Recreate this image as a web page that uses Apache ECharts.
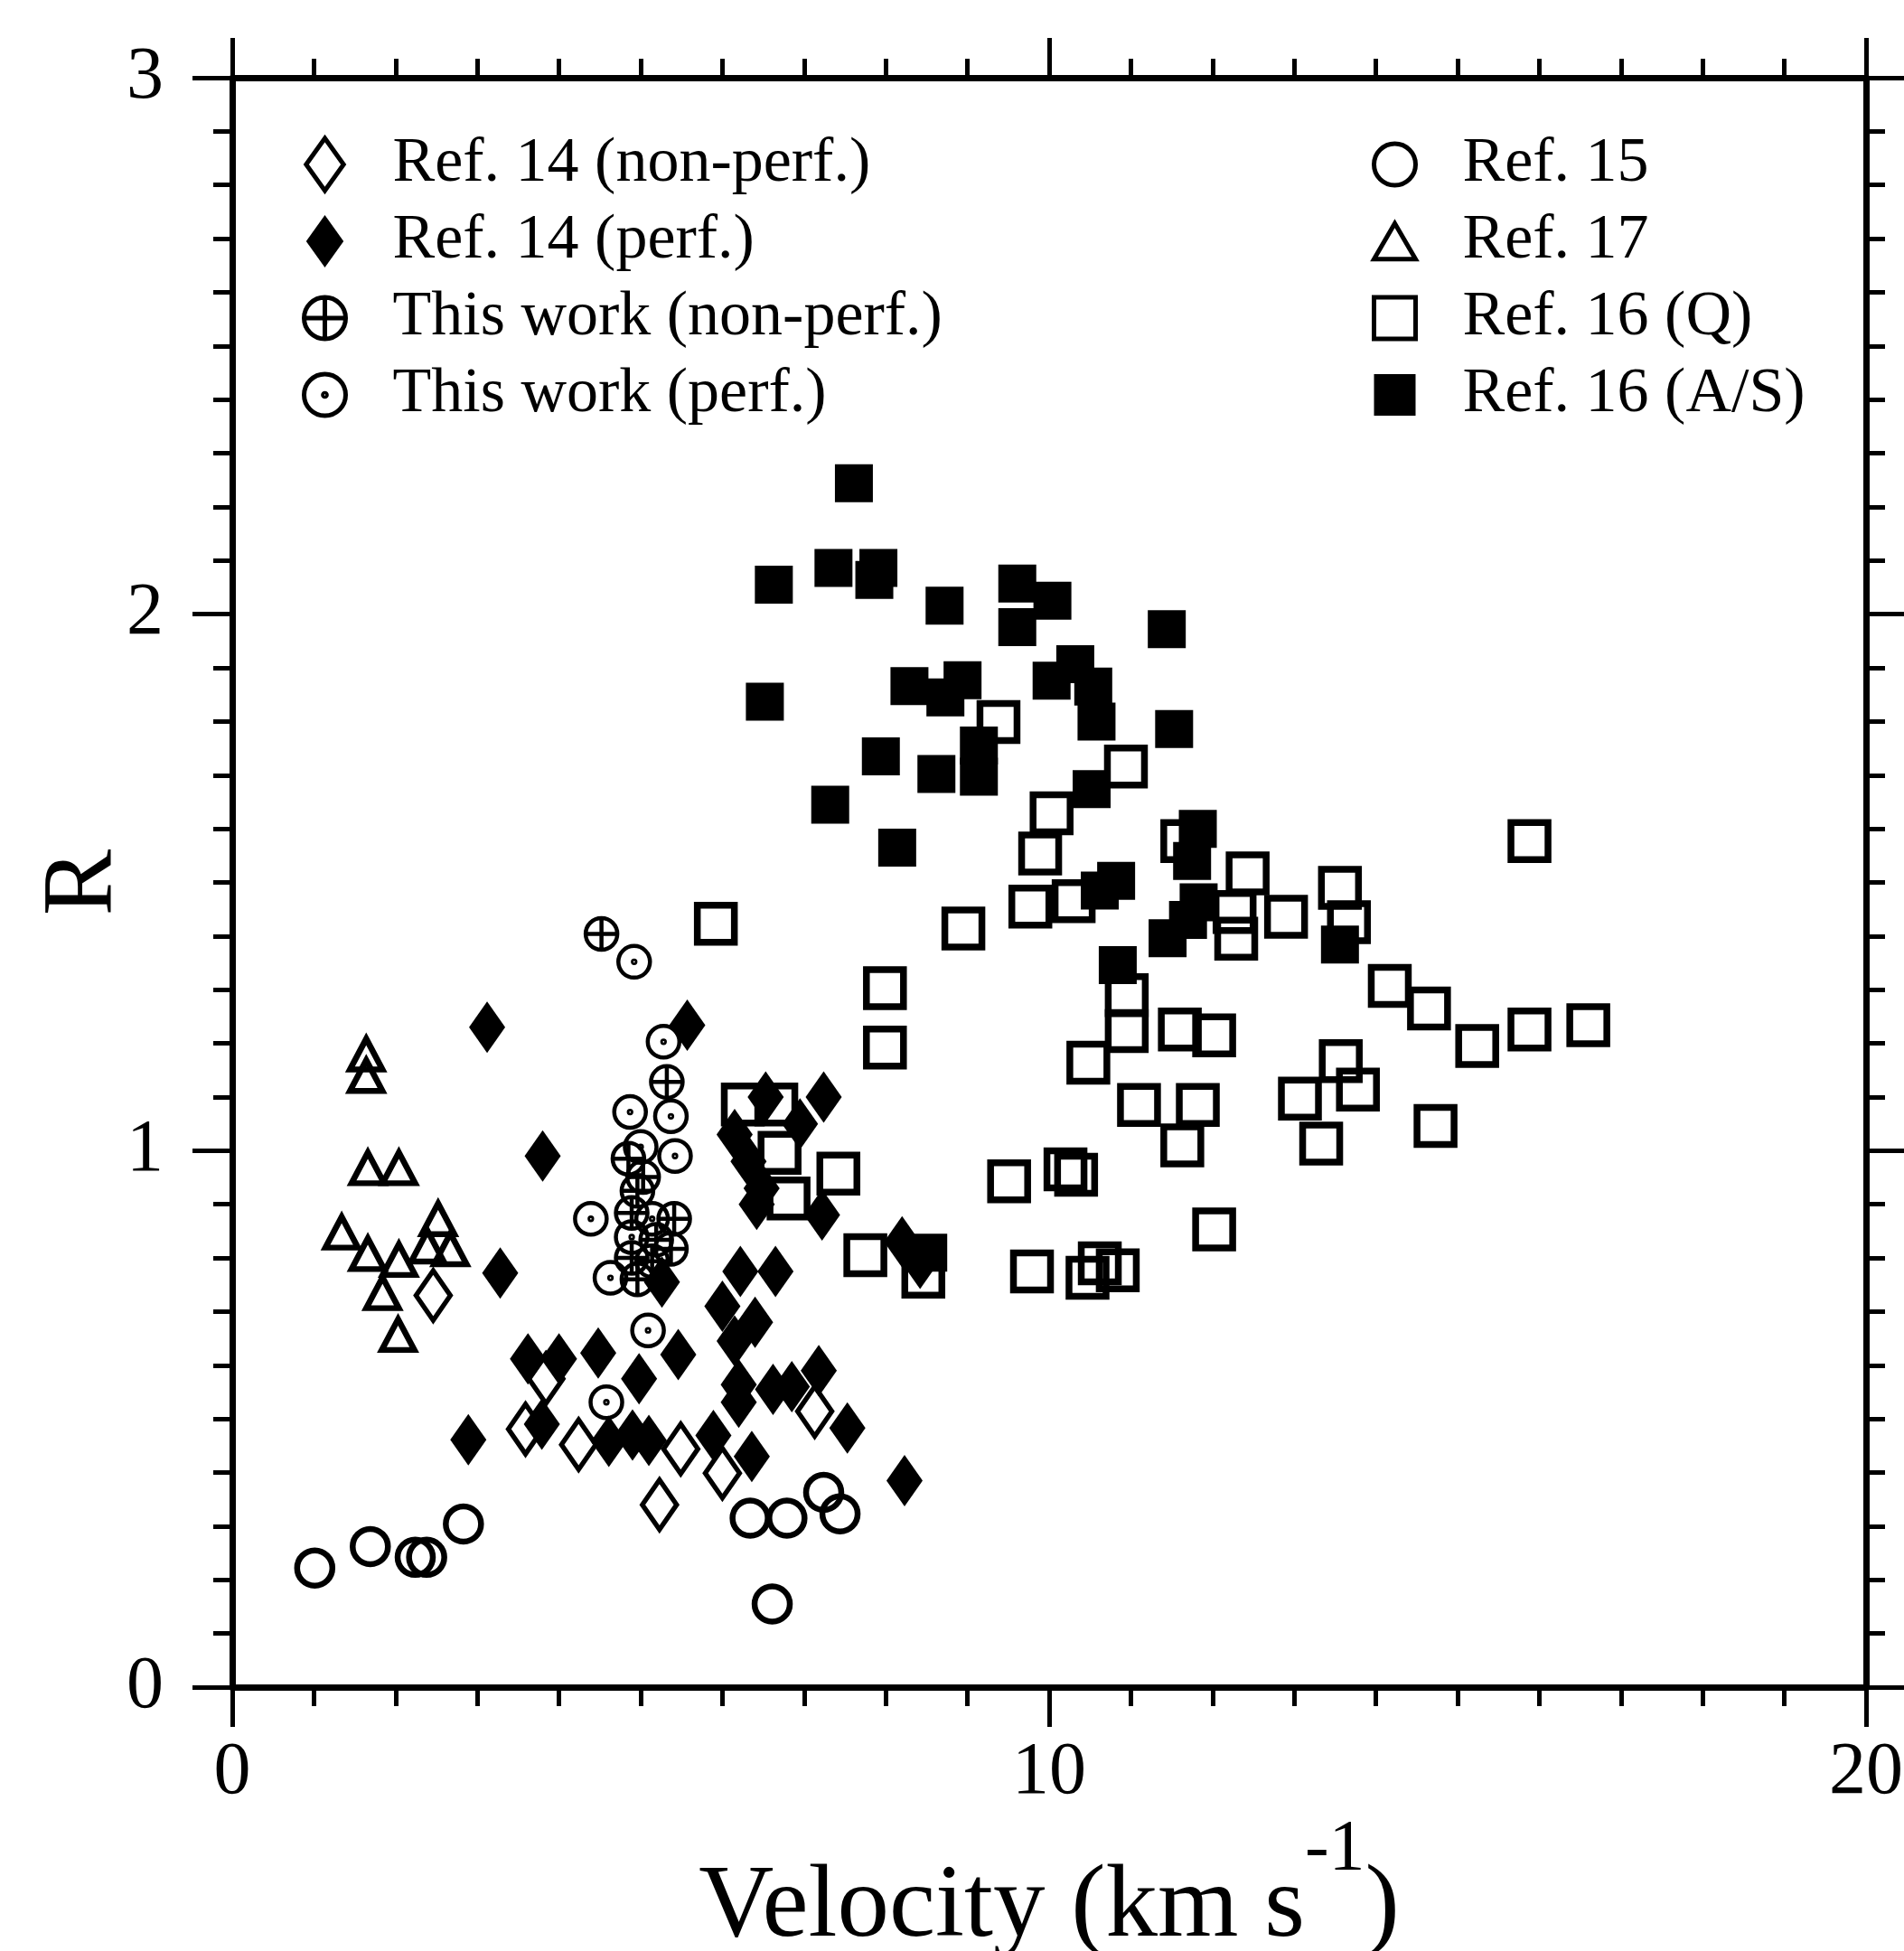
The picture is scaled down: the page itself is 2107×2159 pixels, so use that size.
<!DOCTYPE html>
<html>
<head>
<meta charset="utf-8">
<script src="https://cdn.jsdelivr.net/npm/echarts@6/dist/echarts.min.js"></script>
<style>
  html, body { margin: 0; padding: 0; background: #fff; }
  #chart { width: 2107px; height: 2159px; }
</style>
</head>
<body>
<div id="chart"></div>
<script>
// 数据：[velocity (km/s), R]，从原图读出的估计值
const ref14NonPerf = [
  [2.46, 0.73], [3.84, 0.575], [3.59, 0.481], [4.24, 0.452], [5.49, 0.444],
  [6.00, 0.399], [5.23, 0.340], [7.13, 0.514]
];
const ref14Perf = [
  [3.12, 1.23], [5.57, 1.234], [3.80, 0.99], [3.28, 0.772], [6.53, 1.10],
  [7.24, 1.10], [6.15, 1.03], [6.32, 0.98], [6.48, 0.93], [6.95, 1.05],
  [7.22, 0.88], [6.42, 0.90], [8.20, 0.83], [8.42, 0.79], [5.26, 0.755],
  [6.22, 0.775], [6.65, 0.775], [6.00, 0.71], [6.40, 0.68], [6.15, 0.645],
  [3.62, 0.612], [4.00, 0.612], [4.48, 0.623], [5.46, 0.62], [4.98, 0.575],
  [6.20, 0.564], [7.18, 0.590], [6.62, 0.555], [6.85, 0.56], [7.53, 0.483],
  [2.89, 0.461], [3.79, 0.49], [4.61, 0.458], [4.90, 0.47], [5.10, 0.46],
  [5.89, 0.469], [6.20, 0.531], [6.36, 0.430], [8.23, 0.385]
];
const thisWorkNonPerf = [
  [4.52, 1.404], [5.32, 1.128], [4.85, 0.985], [5.03, 0.951], [4.96, 0.925],
  [5.41, 0.873], [4.89, 0.884], [5.19, 0.834], [4.89, 0.80], [4.96, 0.760],
  [5.14, 0.794], [5.37, 0.817]
];
const thisWorkPerf = [
  [4.92, 1.352], [5.28, 1.203], [4.87, 1.072], [5.37, 1.064], [5.42, 0.99],
  [5.00, 1.007], [4.39, 0.873], [5.14, 0.873], [4.89, 0.839], [4.63, 0.763],
  [5.09, 0.665], [4.58, 0.531]
];
const ref15 = [
  [1.01, 0.222], [1.69, 0.262], [2.24, 0.242], [2.38, 0.242], [2.83, 0.304],
  [6.34, 0.315], [6.79, 0.315], [7.24, 0.363], [7.44, 0.323], [6.61, 0.155]
];
const ref17 = [
  [1.64, 1.18], [1.64, 1.14], [1.66, 0.968], [2.04, 0.968], [1.34, 0.848],
  [1.66, 0.808], [2.04, 0.797], [2.52, 0.873], [2.39, 0.822], [2.67, 0.817],
  [1.84, 0.735], [2.03, 0.657]
];
const ref16Q = [
  [5.92, 1.423], [8.95, 1.414], [7.99, 1.303], [7.99, 1.192], [9.38, 1.799],
  [10.94, 1.716], [10.03, 1.629], [9.89, 1.554], [11.63, 1.577], [12.43, 1.517],
  [12.27, 1.445], [12.29, 1.395], [12.90, 1.436], [13.56, 1.49], [13.67, 1.426],
  [14.17, 1.307], [14.65, 1.265], [15.88, 1.577], [15.24, 1.195], [15.88, 1.226],
  [16.60, 1.234], [14.73, 1.046], [9.77, 1.455], [10.30, 1.465], [10.95, 1.290],
  [10.95, 1.223], [10.48, 1.164], [11.60, 1.226], [12.02, 1.215], [11.10, 1.085],
  [11.82, 1.085], [11.63, 1.010], [13.07, 1.097], [13.57, 1.167], [13.78, 1.114],
  [13.33, 1.013], [9.51, 0.943], [10.20, 0.965], [10.33, 0.955], [12.02, 0.853],
  [9.79, 0.775], [10.47, 0.763], [10.62, 0.79], [10.84, 0.777], [8.46, 0.765],
  [6.25, 1.086], [6.66, 1.086], [6.70, 0.996], [6.81, 0.911], [7.42, 0.957],
  [7.75, 0.805]
];
const ref16AS = [
  [7.61, 2.244], [6.63, 2.055], [7.36, 2.086], [7.91, 2.086], [7.86, 2.064],
  [8.72, 2.016], [9.61, 2.057], [10.04, 2.025], [9.61, 1.976], [11.44, 1.972],
  [6.52, 1.837], [8.29, 1.866], [8.94, 1.877], [8.73, 1.845], [10.03, 1.876],
  [10.32, 1.907], [10.54, 1.865], [10.58, 1.800], [11.53, 1.786], [7.94, 1.735],
  [9.14, 1.755], [8.62, 1.702], [9.14, 1.697], [7.32, 1.645], [10.52, 1.674],
  [8.14, 1.565], [11.82, 1.60], [11.75, 1.54], [10.82, 1.503], [10.62, 1.485],
  [11.83, 1.463], [11.70, 1.43], [11.45, 1.396], [13.56, 1.384], [10.84, 1.346],
  [8.52, 0.81]
];

// 坐标轴范围与刻度
const xRange = [0, 20];
const xStep = 10;
const yRange = [0, 3];
const yStep = 1;

const SERIF = '"Liberation Serif", "Times New Roman", serif';

// 自定义符号（圆加十字、圆加点）
const CIRCLE = 'M-10,0A10,10,0,1,1,10,0A10,10,0,1,1,-10,0Z';
const CIRCLE_PLUS = 'path://' + CIRCLE + 'M-10,0L10,0M0,-10L0,10';
const CIRCLE_DOT = 'path://' + CIRCLE + 'M-0.8,0A0.8,0.8,0,1,1,0.8,0A0.8,0.8,0,1,1,-0.8,0Z';
// 图例用的图标（保持宽高比）
const ICON_DIAMOND = 'path://M0,-14L10,0L0,14L-10,0Z';
const ICON_TRIANGLE = 'path://M0,-10L11,9L-11,9Z';
const ICON_SQUARE = 'path://M-10,-10L10,-10L10,10L-10,10Z';
const ICON_CIRCLE = 'path://' + CIRCLE;

const hollow = (w) => ({ color: 'rgba(0,0,0,0)', borderColor: '#000', borderWidth: w, opacity: 1 });
const solid = { color: '#000', opacity: 1 };

const chart = echarts.init(document.getElementById('chart'));

const xAxisBase = {
  type: 'value',
  min: xRange[0],
  max: xRange[1],
  interval: xStep,
  axisLine: { onZero: false, lineStyle: { color: '#000', width: 7 } },
  axisTick: { length: 44, lineStyle: { color: '#000', width: 5 } },
  minorTick: { show: true, splitNumber: 10, length: 21, lineStyle: { color: '#000', width: 5 } },
  splitLine: { show: false },
  minorSplitLine: { show: false }
};
const yAxisBase = {
  type: 'value',
  min: yRange[0],
  max: yRange[1],
  interval: yStep,
  axisLine: { onZero: false, lineStyle: { color: '#000', width: 7 } },
  axisTick: { length: 44, lineStyle: { color: '#000', width: 5 } },
  minorTick: { show: true, splitNumber: 10, length: 21, lineStyle: { color: '#000', width: 5 } },
  splitLine: { show: false },
  minorSplitLine: { show: false }
};

const legendBase = {
  orient: 'vertical',
  top: 142,
  itemWidth: 46,
  itemHeight: 58,
  itemGap: 15,
  selectedMode: false,
  itemStyle: { borderWidth: 5, opacity: 1 },
  textStyle: {
    fontFamily: SERIF,
    fontSize: 70,
    color: '#000',
    padding: [0, 0, 0, 47]
  }
};

const option = {
  animation: false,
  backgroundColor: '#fff',
  grid: { left: 257, right: 42, top: 86, bottom: 292, outerBoundsMode: 'none', containLabel: false },
  legend: [
    Object.assign({}, legendBase, {
      left: 329,
      data: [
        { name: 'Ref. 14 (non-perf.)', icon: ICON_DIAMOND },
        { name: 'Ref. 14 (perf.)', icon: ICON_DIAMOND },
        { name: 'This work (non-perf.)', icon: CIRCLE_PLUS },
        { name: 'This work (perf.)', icon: CIRCLE_DOT }
      ]
    }),
    Object.assign({}, legendBase, {
      left: 1513,
      data: [
        { name: 'Ref. 15', icon: ICON_CIRCLE },
        { name: 'Ref. 17', icon: ICON_TRIANGLE },
        { name: 'Ref. 16 (Q)', icon: ICON_SQUARE },
        { name: 'Ref. 16 (A/S)', icon: ICON_SQUARE }
      ]
    })
  ],
  xAxis: [
    Object.assign({}, xAxisBase, {
      position: 'bottom',
      axisLabel: { fontFamily: SERIF, fontSize: 82, color: '#000', margin: 54 },
      name: 'Velocity (km s{sup|-1})',
      nameLocation: 'middle',
      nameGap: 119,
      nameTextStyle: {
        fontFamily: SERIF,
        fontSize: 115,
        color: '#000',
        rich: {
          sup: { fontFamily: SERIF, fontSize: 80, color: '#000', padding: [0, 0, 128, 0] }
        }
      }
    }),
    Object.assign({}, xAxisBase, {
      position: 'top',
      axisLabel: { show: false }
    })
  ],
  yAxis: [
    Object.assign({}, yAxisBase, {
      position: 'left',
      axisLabel: { fontFamily: SERIF, fontSize: 82, color: '#000', margin: 76 },
      name: 'R',
      nameLocation: 'middle',
      nameRotate: 90,
      nameGap: 108,
      nameMoveOverlap: false,
      nameTextStyle: { fontFamily: SERIF, fontSize: 110, color: '#000' }
    }),
    Object.assign({}, yAxisBase, {
      position: 'right',
      axisLabel: { show: false }
    })
  ],
  series: [
    { name: 'Ref. 14 (non-perf.)', type: 'scatter', data: ref14NonPerf,
      symbol: 'diamond', symbolSize: [38, 55], itemStyle: hollow(5.5) },
    { name: 'Ref. 14 (perf.)', type: 'scatter', data: ref14Perf,
      symbol: 'diamond', symbolSize: [40, 57], itemStyle: solid },
    { name: 'Ref. 16 (Q)', type: 'scatter', data: ref16Q,
      symbol: 'rect', symbolSize: 41, itemStyle: hollow(7.5) },
    { name: 'Ref. 16 (A/S)', type: 'scatter', data: ref16AS,
      symbol: 'rect', symbolSize: 42, itemStyle: solid },
    { name: 'Ref. 17', type: 'scatter', data: ref17,
      symbol: 'triangle', symbolSize: [36, 34], itemStyle: hollow(6.5) },
    { name: 'Ref. 15', type: 'scatter', data: ref15,
      symbol: 'circle', symbolSize: 39, itemStyle: hollow(6.5) },
    { name: 'This work (non-perf.)', type: 'scatter', data: thisWorkNonPerf,
      symbol: CIRCLE_PLUS, symbolSize: 35, itemStyle: hollow(4.5) },
    { name: 'This work (perf.)', type: 'scatter', data: thisWorkPerf,
      symbol: CIRCLE_DOT, symbolSize: 35, itemStyle: hollow(4.5) }
  ]
};

chart.setOption(option);
</script>
</body>
</html>
